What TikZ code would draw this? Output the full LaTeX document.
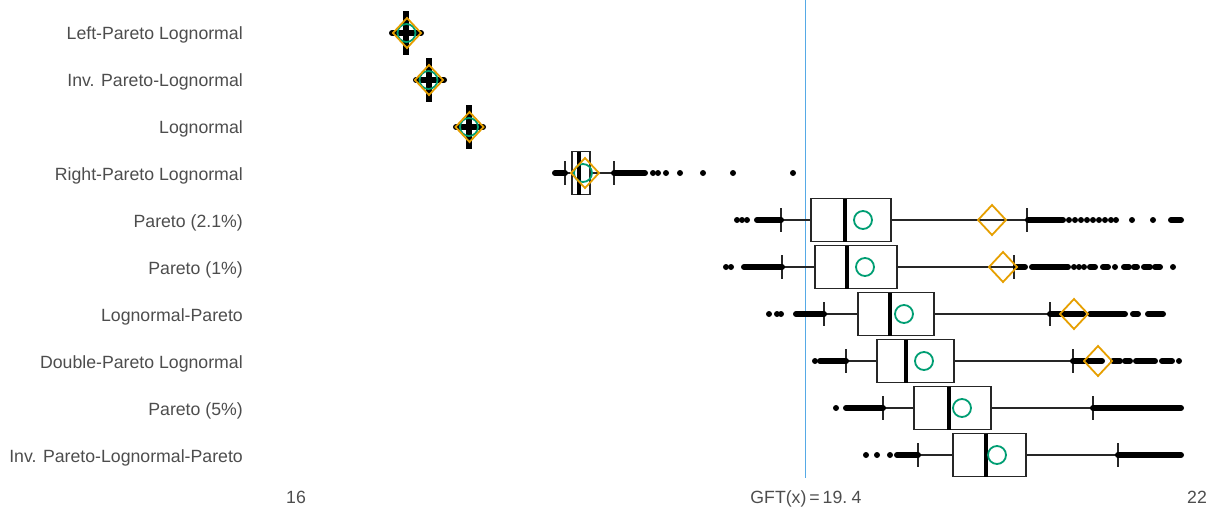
\documentclass[tikz,border=0pt]{standalone}
\usepackage{fontspec}
\setmainfont{Liberation Sans}
\definecolor{meanc}{HTML}{009E73}
\definecolor{gftc}{HTML}{E69F00}
\definecolor{refc}{RGB}{86,170,230}
\definecolor{labc}{HTML}{4D4D4D}
\tikzset{
  lab/.style={anchor=base east, text=labc, font=\fontsize{17.7}{21}\selectfont, inner sep=0pt},
  axlab/.style={anchor=base, text=labc, font=\fontsize{17.7}{21}\selectfont, inner sep=0pt},
  boxs/.style={draw=black!85, line width=1.3pt},
  med/.style={draw=black, line width=3.6pt},
  whisk/.style={draw=black!85, line width=1.1pt},
  outrun/.style={draw=black, line width=6pt, line cap=round},
  meanmark/.style={draw=meanc, line width=1.8pt},
  gftmark/.style={draw=gftc, line width=1.8pt, line join=miter},
  refline/.style={fill=refc, draw=none},
}
% #1 y, #2 box left, #3 box right, #4 median, #5 whisker left, #6 whisker right
\newcommand\mybox[6]{%
  \draw[whisk] (#5,#1) -- (#2,#1) (#3,#1) -- (#6,#1);
  \draw[whisk] (#5,#1-12) -- (#5,#1+12) (#6,#1-12) -- (#6,#1+12);
  \draw[boxs, fill=white] (#2,#1-21.5) rectangle (#3,#1+21.5);
  \draw[med] (#4,#1-21.5) -- (#4,#1+21.5);
}
% narrow box drawn solid: #1 y, #2 left, #3 right
\newcommand\mybar[3]{\fill[black] (#2,#1-22) rectangle (#3,#1+22);}
\newcommand\myrun[3]{\draw[outrun] (#2,#1) -- (#3,#1);}
\newcommand\mydots[2]{\foreach \xx in {#2} {\fill[black] (\xx,#1) circle (3pt);}}
\newcommand\mymean[2]{\draw[meanmark] (#1,#2) circle (9pt);}
\newcommand\mygft[2]{\draw[gftmark] (#1-14,#2) -- (#1,#2-15) -- (#1+14,#2) -- (#1,#2+15) -- cycle;}
\begin{document}
\begin{tikzpicture}[x=1pt, y=-1pt]
\useasboundingbox (0,0) rectangle (1213,512);
% reference line
\coordinate (reftop) at (804.6,0);
\coordinate (refbot) at (806.4,478);
\path[refline] (reftop) rectangle (refbot);
% labels
\node[lab] (l1) at (243,39.5) {Left-Pareto Lognormal};
\node[lab] (l2) at (243,86.5) {Inv. Pareto-Lognormal};
\node[lab] (l3) at (243,133.5) {Lognormal};
\node[lab] (l4) at (243,180.5) {Right-Pareto Lognormal};
\node[lab] (l5) at (243,227.5) {Pareto (2.1\%)};
\node[lab] (l6) at (243,274.5) {Pareto (1\%)};
\node[lab] (l7) at (243,321.5) {Lognormal-Pareto};
\node[lab] (l8) at (243,368.5) {Double-Pareto Lognormal};
\node[lab] (l9) at (243,415.5) {Pareto (5\%)};
\node[lab] (l10) at (243,462.5) {Inv. Pareto-Lognormal-Pareto};
% axis labels
\node[axlab] (t16) at (296,503.5) {16};
\node[axlab] (tgft) at (806,503.5) {GFT(x)\,=\,19.\hspace{0.25em}4};
\node[axlab] (t22) at (1197,503.5) {22};
% row 1
\mybar{33}{403}{409}
\myrun{33}{392}{421}
\mymean{406.5}{33}
\mygft{407}{33}
% row 2
\mybar{80}{425.5}{431.5}
\myrun{80}{416}{444}
\mymean{428.5}{80}
\mygft{429}{80}
% row 3
\mybar{127}{466}{472}
\myrun{127}{456}{483}
\mymean{469}{127}
\mygft{469.5}{127}
% row 4
\mybox{173}{572}{590}{579}{565}{614}
\myrun{173}{555}{565}
\myrun{173}{614}{645}
\mydots{173}{653,658,666,680,703,733,793}
\mymean{583}{173}
\mygft{585}{173}
% row 5
\mybox{220}{811}{891}{845}{781}{1027}
\mydots{220}{737,742,747}
\myrun{220}{757}{781}
\myrun{220}{1028}{1063}
\mydots{220}{1069,1075,1081,1087,1093,1099,1105,1111,1116,1132,1153}
\myrun{220}{1171}{1181}
\mymean{863}{220}
\mygft{992}{220}
% row 6
\mybox{267}{815}{897}{847}{782}{1014}
\mydots{267}{726,731}
\myrun{267}{744}{782}
\myrun{267}{1016}{1025}
\myrun{267}{1032}{1068}
\mydots{267}{1074,1079,1084,1115,1173}
\myrun{267}{1090}{1095}
\myrun{267}{1103}{1108}
\myrun{267}{1124}{1129}
\myrun{267}{1134}{1137}
\myrun{267}{1144}{1150}
\myrun{267}{1155}{1160}
\mymean{865}{267}
\mygft{1003}{267}
% row 7
\mybox{314}{858}{934}{890}{824}{1050}
\mydots{314}{769,777,781}
\myrun{314}{796}{824}
\myrun{314}{1050}{1083}
\myrun{314}{1090}{1125}
\myrun{314}{1133}{1138}
\myrun{314}{1148}{1163}
\mymean{904}{314}
\mygft{1074}{314}
% row 8
\mybox{361}{877}{954}{906}{846}{1073}
\mydots{361}{815,1179}
\myrun{361}{820}{846}
\myrun{361}{1073}{1102}
\myrun{361}{1113}{1120}
\myrun{361}{1125}{1130}
\myrun{361}{1136}{1155}
\myrun{361}{1162}{1172}
\mymean{924}{361}
\mygft{1098}{361}
% row 9
\mybox{408}{914}{991}{949}{883}{1093}
\mydots{408}{836}
\myrun{408}{846}{883}
\myrun{408}{1093}{1181}
\mymean{962}{408}
% row 10
\mybox{455}{953}{1026}{986}{918}{1118}
\mydots{455}{866,877,890}
\myrun{455}{897}{918}
\myrun{455}{1118}{1181}
\mymean{997}{455}
\end{tikzpicture}
\end{document}
